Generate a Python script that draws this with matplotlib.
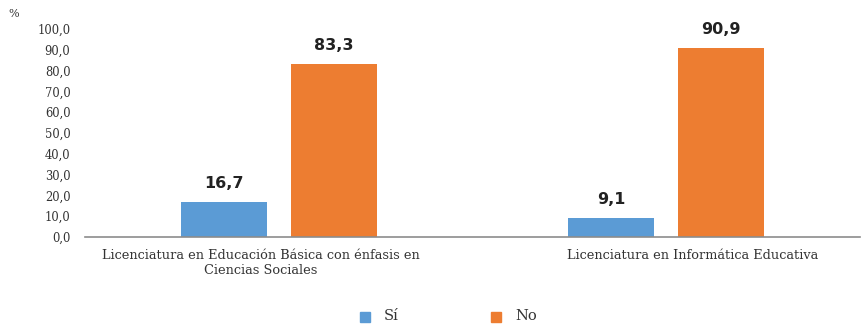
import numpy as np
import matplotlib
matplotlib.use("Agg")
import matplotlib.pyplot as plt
from matplotlib.patches import Rectangle

categories = ["Licenciatura en Educación Básica con énfasis en\nCiencias Sociales",
              "Licenciatura en Informática Educativa"]
series = ["Sí", "No"]
si_values = [16.7, 9.1]
no_values = [83.3, 90.9]
yticks = np.arange(0, 101, 10)

colors = {"Sí": "#5B9BD5", "No": "#ED7D31"}
serif = "DejaVu Serif"


def fmt(v):
    return f"{v:.1f}".replace(".", ",")


fig = plt.figure(figsize=(8.61, 3.25), dpi=100)
ax = fig.add_axes([85 / 861, (325 - 237) / 325, 775 / 861, (237 - 29) / 325])

x = np.arange(len(categories))
width = 0.222
offsets = [-0.142, 0.142]

for off, name, vals in zip(offsets, series, [si_values, no_values]):
    bars = ax.bar(x + off, vals, width, color=colors[name], label=name)
    for b, v in zip(bars, vals):
        ax.text(b.get_x() + b.get_width() / 2, v + 5.3, fmt(v),
                ha="center", va="bottom", fontsize=11.5, fontweight="bold",
                color="#222222", family="DejaVu Sans")

ax.set_xlim(-0.5, 1.5)
ax.set_ylim(0, 100)
ax.set_yticks(yticks)
ax.set_yticklabels([fmt(t) for t in yticks], family=serif, fontsize=8.3, color="#333333")
ax.tick_params(axis="y", length=0, pad=10.5)
ax.set_xticks([])
for s in ["top", "right", "left"]:
    ax.spines[s].set_visible(False)
ax.spines["bottom"].set_color("#8c8c8c")
ax.spines["bottom"].set_linewidth(1.2)

# category labels sit a little off the group centres
label_pos = [-0.046, 1.069]
for xp, lab in zip(label_pos, categories):
    ax.text(xp, -6, lab, ha="center", va="top", fontsize=9.3, family=serif,
            color="#333333", linespacing=1.2)

fig.text(8 / 861, 1 - 14 / 325, "%", fontsize=8, family=serif, color="#333333", va="center")

# legend drawn by hand in figure coordinates
for px, name in [(365, "Sí"), (496, "No")]:
    fig.patches.append(Rectangle((px / 861 - 5 / 861, 1 - 322 / 325), 10 / 861, 10 / 325,
                                 transform=fig.transFigure, color=colors[name]))
    fig.text((px + 19) / 861, 1 - 316 / 325, name, fontsize=10.5, family=serif,
             color="#333333", va="center")

fig.savefig("out.png", dpi=100)
